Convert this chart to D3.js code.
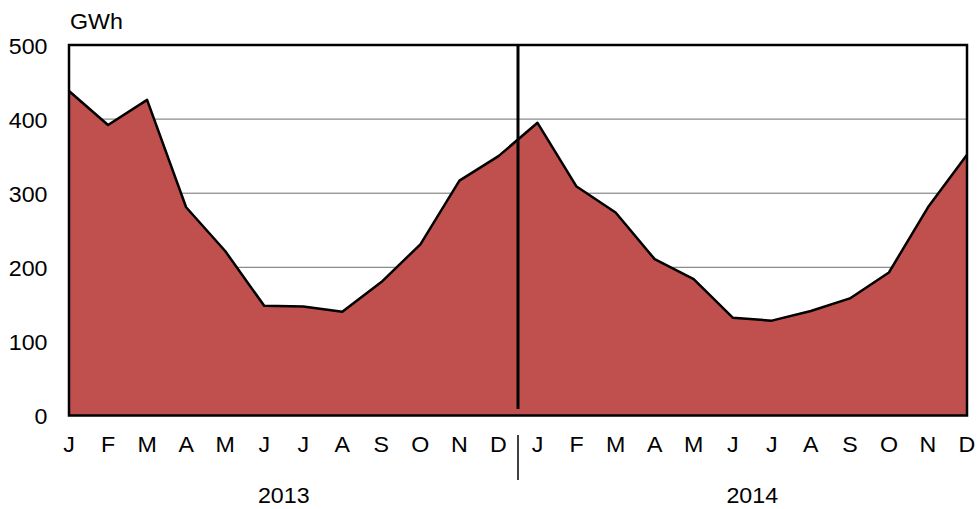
<!DOCTYPE html>
<html><head><meta charset="utf-8">
<script src="https://cdn.jsdelivr.net/npm/d3@7"></script>
<style>body{margin:0;background:#fff}svg{display:block}text{font-family:"Liberation Sans",Arial,sans-serif;fill:#000}</style>
</head><body><svg id="c" width="980" height="509"></svg>
<script>
const months = ["J","F","M","A","M","J","J","A","S","O","N","D","J","F","M","A","M","J","J","A","S","O","N","D"];
const years = ["2013","2014"];
const values = [438,392,426,281,222,148,147,140,180,231,317,350,395,309,274,211,184,132,128,141,158,193,281,352];
const yTicks = [0,100,200,300,400,500];
const unit = "GWh";

const svg = d3.select("#c");
const L=69,R=967,T=45,B=415.5;
const FS=21.5, SX=1.08;
const x = d3.scaleLinear().domain([0,months.length-1]).range([L,R]);
const y = d3.scaleLinear().domain([0,500]).range([B,T]);

svg.append("g").selectAll("line").data(yTicks.filter(d=>d>0&&d<500)).join("line")
  .attr("x1",L).attr("x2",R).attr("y1",d=>y(d)).attr("y2",d=>y(d))
  .attr("stroke","#6e6e6e").attr("stroke-width",1);

const idx = d3.range(values.length);
svg.append("path").datum(idx)
  .attr("d",d3.area().x(i=>x(i)).y0(B).y1(i=>y(values[i])))
  .attr("fill","#C0504D");
svg.append("path").datum(idx)
  .attr("d",d3.line().x(i=>x(i)).y(i=>y(values[i])))
  .attr("fill","none").attr("stroke","#000").attr("stroke-width",2.5).attr("stroke-linejoin","round");

svg.append("rect").attr("x",L).attr("y",T).attr("width",R-L).attr("height",B-T)
  .attr("fill","none").attr("stroke","#000").attr("stroke-width",2.5);

const xm = (x(11)+x(12))/2;
svg.append("line").attr("x1",xm).attr("x2",xm).attr("y1",T).attr("y2",409)
  .attr("stroke","#000").attr("stroke-width",3);
svg.append("line").attr("x1",xm).attr("x2",xm).attr("y1",435).attr("y2",480)
  .attr("stroke","#000").attr("stroke-width",1.5);

function lab(g,data,fx,fy,anchor,txt){
  g.selectAll("text").data(data).join("text")
    .attr("transform",(d,i)=>`translate(${fx(d,i)},${fy(d,i)}) scale(${SX},1)`)
    .attr("text-anchor",anchor).attr("font-size",FS).text(txt);
}
lab(svg.append("g"),yTicks,()=>47.5,d=>y(d)+8.5,"end",d=>d);
lab(svg.append("g"),[unit],()=>70,()=>29,"start",d=>d);
lab(svg.append("g"),months,(d,i)=>x(i),()=>452,"middle",d=>d);
lab(svg.append("g"),years,(d,i)=>(x(i*12)+x(i*12+11))/2,()=>502.5,"middle",d=>d);
</script></body></html>
